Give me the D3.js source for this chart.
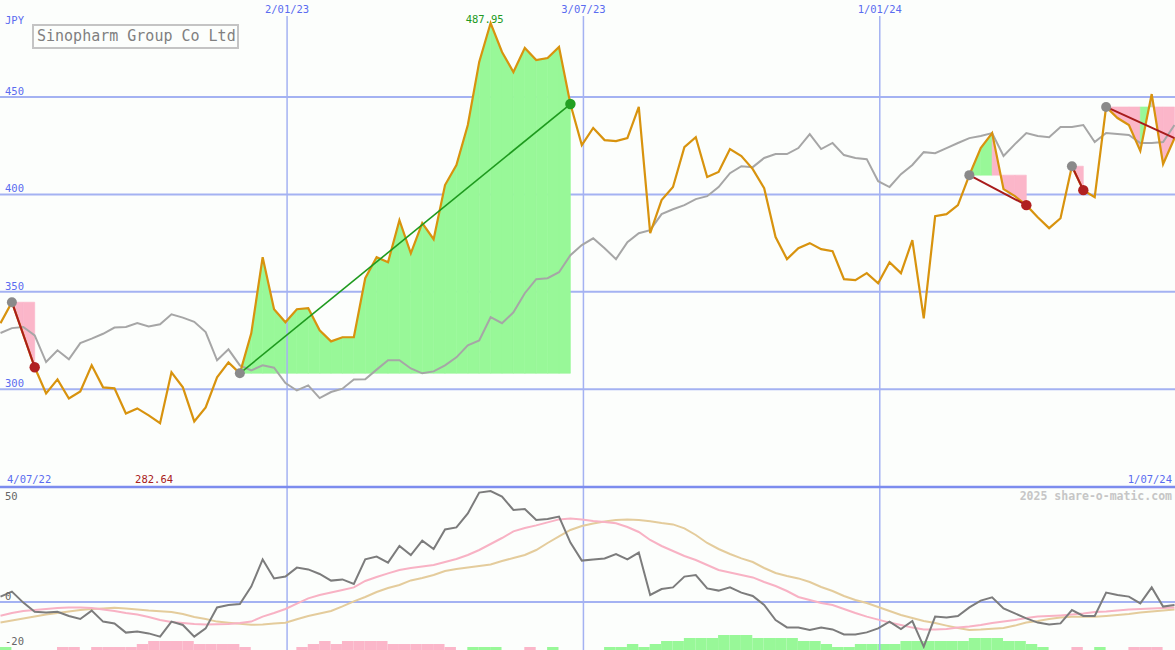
<!DOCTYPE html>
<html><head><meta charset="utf-8">
<script src="https://cdn.jsdelivr.net/npm/d3@7"></script>
<style>html,body{margin:0;padding:0;background:#fcfefc;}svg{display:block;}</style>
</head><body><svg id="c" width="1175" height="650"></svg>
<script>
// ---------- data ----------
const title = "Sinopharm Group Co Ltd";
const currency = "JPY";
const firstWeek = "2022-07-10";
const price = [
333.9,344.7,328.0,311.3,297.9,305.1,295.3,298.9,312.3,301.0,
300.5,287.6,290.2,286.6,282.64,308.7,301.0,283.5,290.7,306.1,
313.8,308.2,328.7,367.8,341.1,334.4,341.1,341.6,330.3,324.6,
326.7,326.7,357.0,367.8,365.2,386.8,369.8,385.3,377.0,404.8,
415.1,435.6,468.0,487.95,473.1,462.8,475.2,469.0,470.0,475.7,
446.4,425.3,434.1,427.9,427.4,428.9,444.9,380.1,397.1,403.8,
424.3,429.4,408.9,411.5,423.3,419.7,413.0,403.2,378.1,366.8,
372.4,375.0,371.9,370.9,356.5,356.0,359.6,354.4,365.2,359.6,
376.5,336.4,388.8,389.9,394.5,409.9,423.8,431.5,402.7,399.1,
394.5,388.3,382.7,387.8,414.5,402.2,398.6,444.9,439.2,435.6,
422.3,451.5,415.6,428.9];
const compare = [
328.9,331.4,332.0,327.7,314.0,320.0,315.4,323.7,326.0,328.5,
331.7,332.0,334.0,332.3,333.4,338.5,336.8,334.6,329.4,314.9,
320.5,312.3,309.7,312.3,311.1,303.2,299.4,302.0,295.5,298.6,
300.3,305.0,305.1,310.1,314.9,314.9,310.7,308.2,309.2,312.3,
316.4,322.6,325.1,337.0,333.9,339.5,349.3,356.5,357.0,360.1,
368.8,374.0,377.5,372.4,366.8,375.5,380.1,381.7,389.9,392.4,
394.5,397.6,399.1,403.8,410.9,414.5,414.0,418.7,420.7,420.7,
423.8,431.0,423.3,426.4,420.2,418.7,418.1,406.8,403.8,410.4,
415.1,421.7,421.2,423.8,426.4,428.9,430.0,431.5,419.7,425.8,
431.5,430.0,429.4,434.6,434.6,435.6,426.9,431.5,431.0,430.5,
426.4,426.4,426.9,435.6];
const momentum = [
2.7,5.2,-0.3,-4.9,-5.3,-4.9,-7.0,-8.5,-4.3,-9.8,
-10.7,-15.3,-14.8,-15.7,-17.3,-9.8,-11.5,-17.3,-13.2,-2.7,
-1.5,-1.0,7.7,21.3,11.8,12.7,17.2,16.3,14.0,10.7,
11.3,9.0,21.3,22.7,19.7,28.0,23.5,30.7,26.5,36.3,
37.3,44.3,54.7,55.5,52.7,46.0,46.5,41.0,41.5,42.7,
29.7,20.7,21.3,21.8,24.0,21.3,24.7,3.5,6.5,7.3,
12.7,13.5,6.8,5.7,7.3,4.7,3.0,-1.5,-9.0,-12.7,
-12.7,-14.0,-12.7,-13.7,-16.2,-16.2,-15.2,-13.2,-9.8,-13.5,
-9.5,-22.3,-7.3,-7.7,-7.0,-2.7,0.7,2.3,-3.2,-5.7,
-8.2,-10.3,-11.2,-10.7,-4.0,-7.0,-7.0,4.7,3.5,2.7,
-0.7,7.3,-2.3,-1.5];
const maFast = [
-6.9,-5.5,-4.5,-4.0,-3.5,-3.0,-2.7,-2.7,-3.0,-3.8,
-4.5,-5.5,-6.3,-7.5,-9.0,-10.0,-10.5,-11.0,-11.2,-11.1,
-11.0,-10.5,-9.8,-7.3,-5.5,-3.5,-0.8,1.8,3.5,4.8,
6.0,7.3,10.5,12.5,14.3,16.0,17.0,17.8,18.5,20.0,
21.5,23.5,26.0,29.0,32.0,35.3,37.0,38.3,39.8,41.3,
41.8,41.3,40.5,40.0,39.4,37.5,35.0,31.0,28.0,25.5,
23.0,21.0,18.5,16.0,14.8,13.5,12.3,10.0,8.0,5.5,
2.5,1.0,-0.5,-1.5,-3.5,-5.5,-7.3,-8.8,-10.3,-11.5,
-12.8,-13.7,-13.7,-13.5,-12.8,-12.3,-11.5,-10.5,-9.8,-9.0,
-8.0,-7.3,-7.0,-6.7,-6.3,-5.8,-5.0,-4.8,-4.3,-3.8,
-3.5,-3.3,-3.0,-2.8];
const maSlow = [
-10.3,-9.3,-8.3,-7.3,-6.3,-5.5,-4.8,-4.0,-3.5,-3.2,
-2.9,-3.2,-3.8,-4.3,-4.6,-5.0,-6.0,-7.5,-8.5,-9.8,
-10.4,-10.9,-11.4,-11.3,-10.8,-10.4,-8.6,-7.0,-5.8,-4.5,
-2.2,0.3,2.5,5.0,7.0,8.5,10.8,12.0,13.5,15.5,
16.5,17.3,18.0,18.8,20.5,22.0,23.5,26.0,29.5,32.8,
36.0,38.0,39.3,40.3,41.0,41.3,41.0,40.4,39.5,38.8,
36.8,33.5,29.5,26.5,24.0,21.8,20.0,17.0,14.5,13.0,
11.8,10.0,7.5,5.5,3.0,1.0,-0.5,-2.5,-4.5,-6.5,
-8.0,-9.5,-10.5,-11.8,-13.0,-14.0,-13.8,-13.4,-13.0,-11.8,
-10.3,-9.5,-8.5,-7.8,-7.4,-7.4,-7.4,-7.0,-6.5,-6.0,
-5.3,-4.8,-4.3,-3.8];
const hist = [
1,0,0,0,0,-1,-1,0,-1,-1,
-1,-1,-2,-3,-3,-3,-3,-2,-2,-2,
-2,-1,0,0,0,0,-1,-2,-3,-2,
-3,-3,-3,-3,-2,-2,-2,-2,-2,-1,
0,1,1,1,0,0,-1,0,1,0,
0,0,0,1,1,2,1,2,3,3,
4,4,4,5,5,5,4,4,4,4,
3,3,2,1,1,2,2,2,2,3,
3,3,3,3,3,4,4,4,3,3,
2,1,0,0,-1,0,1,0,0,-1,
-1,-1,0,0];
const tradeStart = [1,21,85,94,97];
const tradeEnd   = [3,50,90,95,103];
const tradeOpen  = [false,false,false,false,true];
const priceTicks = [450,400,350,300];
const lowerTicks = [50,0,-20];
const dateTicks = ["2023-01-02","2023-07-03","2024-01-01"];
const dateTickLabels = ["2/01/23","3/07/23","1/01/24"];
const rangeLabels = ["4/07/22","1/07/24"];
const watermark = "2025 share-o-matic.com";

// ---------- setup ----------
const W = 1175, H = 650;
const svg = d3.select("#c");
const parse = d3.utcParse("%Y-%m-%d");
const d0 = parse(firstWeek);
const dates = price.map((_, i) => d3.utcDay.offset(d0, 7 * i));
const x = d3.scaleUtc().domain([dates[0], dates[dates.length - 1]]).range([0.5, 1174.5]);
const y = d3.scaleLinear().domain([300, 450]).range([389.3, 97]);
const yl = d3.scaleLinear().domain([-20, 50]).range([642, 502]);
const hScale = d3.scaleLinear().domain([0, 5]).range([0, 15]);
const step = x(dates[1]) - x(dates[0]);
const mono = "DejaVu Sans Mono, monospace";
const gridCol = "#a4b2f2";

svg.append("rect").attr("width", W).attr("height", H).attr("fill", "#fcfefc");

// horizontal price gridlines
svg.append("g").selectAll("line").data(priceTicks).join("line")
  .attr("x1", 0).attr("x2", W).attr("y1", d => y(d)).attr("y2", d => y(d))
  .attr("stroke", gridCol).attr("stroke-width", 2);

// lower panel zero line
svg.append("line").attr("x1", 0).attr("x2", W).attr("y1", yl(0)).attr("y2", yl(0))
  .attr("stroke", gridCol).attr("stroke-width", 2);

// histogram bars
svg.append("g").selectAll("rect").data(hist.map((v, i) => ({v, i})).filter(d => d.v !== 0)).join("rect")
  .attr("x", d => x(dates[d.i]) - 0.5)
  .attr("width", step)
  .attr("y", d => H - hScale(Math.abs(d.v)))
  .attr("height", d => hScale(Math.abs(d.v)))
  .attr("fill", d => d.v > 0 ? "#98f898" : "#fbb6c9");

// trade fills
const fills = svg.append("g");
tradeStart.forEach((s, t) => {
  const e = tradeEnd[t], base = price[s];
  for (let i = s; i < e; i++) {
    const pts = [[x(dates[i]), y(base)], [x(dates[i]), y(price[i])],
                 [x(dates[i + 1]), y(price[i + 1])], [x(dates[i + 1]), y(base)]];
    fills.append("path").attr("d", "M" + pts.join("L") + "Z")
      .attr("fill", price[i + 1] >= base ? "#98f898" : "#fbb6c9")
      .attr("stroke", price[i + 1] >= base ? "#98f898" : "#fbb6c9").attr("stroke-width", 0.6);
  }
});

// vertical date gridlines
svg.append("g").selectAll("line").data(dateTicks).join("line")
  .attr("x1", d => x(parse(d))).attr("x2", d => x(parse(d)))
  .attr("y1", 16).attr("y2", H)
  .attr("stroke", gridCol).attr("stroke-width", 1.5);

// divider
svg.append("line").attr("x1", 0).attr("x2", W).attr("y1", 487).attr("y2", 487)
  .attr("stroke", "#7c8cee").attr("stroke-width", 2.5);

// lower panel lines
const lineL = arr => d3.line().x((d, i) => x(dates[i])).y(d => yl(d))(arr);
svg.append("path").attr("d", lineL(maSlow)).attr("fill", "none").attr("stroke", "#e4cc9c").attr("stroke-width", 2);
svg.append("path").attr("d", lineL(maFast)).attr("fill", "none").attr("stroke", "#f8b2c4").attr("stroke-width", 2);
svg.append("path").attr("d", lineL(momentum)).attr("fill", "none").attr("stroke", "#7c7c7c").attr("stroke-width", 2);

// main lines
const lineM = arr => d3.line().x((d, i) => x(dates[i])).y(d => y(d))(arr);
svg.append("path").attr("d", lineM(compare)).attr("fill", "none").attr("stroke", "#a6a6a6").attr("stroke-width", 2);
svg.append("path").attr("d", lineM(price)).attr("fill", "none").attr("stroke", "#d8930e").attr("stroke-width", 2.2).attr("stroke-linejoin", "miter");

// trade lines and dots
tradeStart.forEach((s, t) => {
  const e = tradeEnd[t];
  const win = price[e] >= price[s];
  const col = win ? "#1e9a1e" : "#a81c1c";
  svg.append("line").attr("x1", x(dates[s])).attr("y1", y(price[s]))
    .attr("x2", x(dates[e])).attr("y2", y(price[e]))
    .attr("stroke", col).attr("stroke-width", win ? 1.6 : 2);
  svg.append("circle").attr("cx", x(dates[s])).attr("cy", y(price[s])).attr("r", 5).attr("fill", "#8a8a8a");
  if (!tradeOpen[t]) {
    svg.append("circle").attr("cx", x(dates[e])).attr("cy", y(price[e])).attr("r", 5.2)
      .attr("fill", win ? "#22a022" : "#b02020");
  }
});

// labels
const txt = (s, xx, yy, col, anchor, size, weight) => svg.append("text")
  .attr("x", xx).attr("y", yy).attr("fill", col).attr("text-anchor", anchor || "start")
  .attr("font-family", mono).attr("font-size", size || 10.5).attr("font-weight", weight || "normal").text(s);

txt(currency, 5, 24, "#5a6cf0");
priceTicks.forEach(v => txt(String(v), 5, y(v) - 2, "#5a6cf0"));
dateTicks.forEach((d, i) => txt(dateTickLabels[i], x(parse(d)), 13, "#5a6cf0", "middle"));
txt(rangeLabels[0], 7, 483, "#5a6cf0");
txt(rangeLabels[1], 1172, 483, "#5a6cf0", "end");
lowerTicks.forEach(v => txt(String(v), 5, v === -20 ? 645 : yl(v) - 2.5, "#666666"));
txt(watermark, 1172, 500, "#c6c6c6", "end", 11.5, "bold");

const iMax = d3.maxIndex(price), iMin = d3.minIndex(price);
txt(price[iMax].toFixed(2), x(dates[iMax]) - 6, y(price[iMax]) - 0.5, "#229a22", "middle");
txt(price[iMin].toFixed(2), x(dates[iMin]) - 6, 483, "#a82020", "middle");

// title box
svg.append("rect").attr("x", 33).attr("y", 25).attr("width", 205).attr("height", 23)
  .attr("fill", "#fcfefc").attr("stroke", "#c4c4c4").attr("stroke-width", 2);
txt(title, 37, 41, "#808080", "start", 15);
</script></body></html>
